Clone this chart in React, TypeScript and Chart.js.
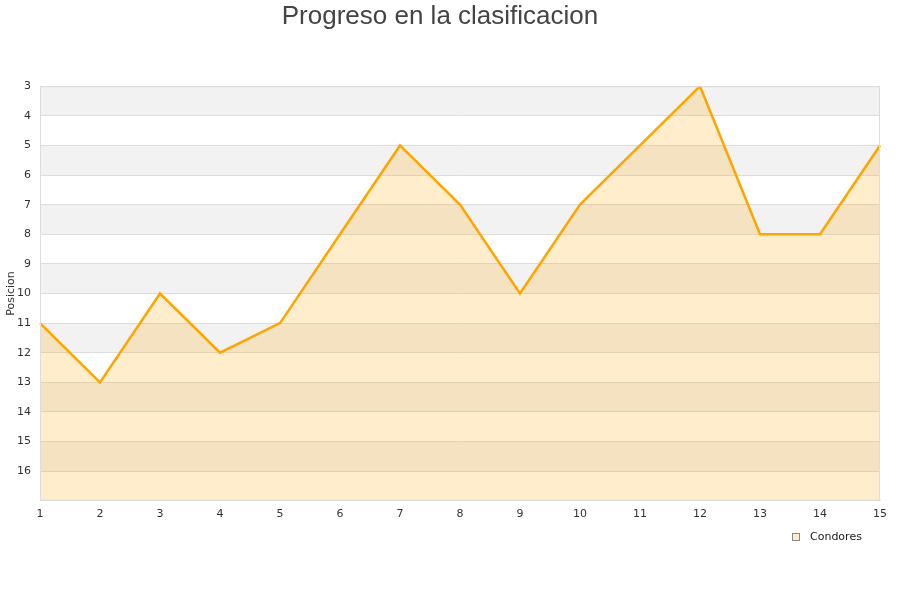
import React, { useEffect, useRef } from "react";
import { Chart, registerables } from "chart.js";
Chart.register(...registerables);

const categories = ["1", "2", "3", "4", "5", "6", "7", "8", "9", "10", "11", "12", "13", "14", "15"];
const positions = [11, 13, 10, 12, 11, 8, 5, 7, 10, 7, 5, 3, 8, 8, 5];
const seriesName = "Condores";
const yMin = 3;
const yMax = 17;

const bandsPlugin = {
  id: "bands",
  beforeDraw(chart: any) {
    const { ctx, chartArea, scales } = chart;
    const y = scales.y;
    ctx.save();
    ctx.fillStyle = "#ffffff";
    ctx.fillRect(chartArea.left, chartArea.top, chartArea.right - chartArea.left, chartArea.bottom - chartArea.top);
    for (let v = yMin; v < yMax; v++) {
      if ((v - yMin) % 2 === 0) {
        const y1 = y.getPixelForValue(v);
        const y2 = y.getPixelForValue(v + 1);
        ctx.fillStyle = "#f2f2f2";
        ctx.fillRect(chartArea.left, y1, chartArea.right - chartArea.left, y2 - y1);
      }
    }
    ctx.restore();
  },
  afterDraw(chart: any) {
    const { ctx, chartArea } = chart;
    ctx.save();
    ctx.strokeStyle = "#dddddd";
    ctx.lineWidth = 1;
    ctx.strokeRect(chartArea.left + 0.5, chartArea.top + 0.5, chartArea.right - chartArea.left - 1, chartArea.bottom - chartArea.top - 1);
    // legend
    const bx = 792;
    const by = 533;
    ctx.fillStyle = "rgba(255,165,0,0.2)";
    ctx.fillRect(bx, by, 8, 8);
    ctx.strokeStyle = "#888888";
    ctx.strokeRect(bx + 0.5, by + 0.5, 7, 7);
    ctx.fillStyle = "#222222";
    ctx.font = "11px 'DejaVu Sans'";
    ctx.textBaseline = "middle";
    ctx.textAlign = "left";
    ctx.fillText(seriesName, 810, by + 4);
    ctx.restore();
  },
};

export default function App() {
  const ref = useRef<HTMLCanvasElement>(null);
  useEffect(() => {
    document.body.style.margin = "0";
    const chart = new Chart(ref.current!, {
      type: "line",
      data: {
        labels: categories,
        datasets: [
          {
            label: seriesName,
            data: positions,
            borderColor: "#ffa500",
            backgroundColor: "rgba(255,165,0,0.2)",
            borderWidth: 2.5,
            pointRadius: 0,
            tension: 0,
            fill: "start",
          },
        ],
      },
      options: {
        animation: false,
        responsive: false,
        layout: { padding: { left: 0, right: 20, top: 1, bottom: 72 } },
        plugins: {
          title: {
            display: true,
            text: "Progreso en la clasificacion",
            color: "#444444",
            font: { family: "Liberation Sans", size: 26, weight: "normal" },
            padding: { top: 0, bottom: 54 },
          },
          legend: { display: false },
          tooltip: { enabled: false },
        },
        scales: {
          x: {
            grid: { display: false, drawTicks: false },
            border: { color: "#dddddd" },
            ticks: { color: "#333333", font: { family: "DejaVu Sans", size: 11 }, maxRotation: 0, autoSkip: false, padding: 7 },
          },
          y: {
            reverse: true,
            min: yMin,
            max: yMax,
            afterFit: (s: any) => {
              s.width = 40;
            },
            grid: { color: "#dddddd", drawTicks: false },
            border: { color: "#dddddd" },
            title: { display: true, text: "Posicion", color: "#333333", font: { family: "DejaVu Sans", size: 11 }, padding: { top: 5, bottom: 0 } },
            ticks: {
              stepSize: 1,
              color: "#333333",
              font: { family: "DejaVu Sans", size: 11 },
              padding: 9,
              callback: (v: any) => (v === yMax ? "" : String(v)),
            },
          },
        },
      },
      plugins: [bandsPlugin],
    });
    return () => chart.destroy();
  }, []);
  return <canvas ref={ref} width={900} height={600} style={{ display: "block" }} />;
}
